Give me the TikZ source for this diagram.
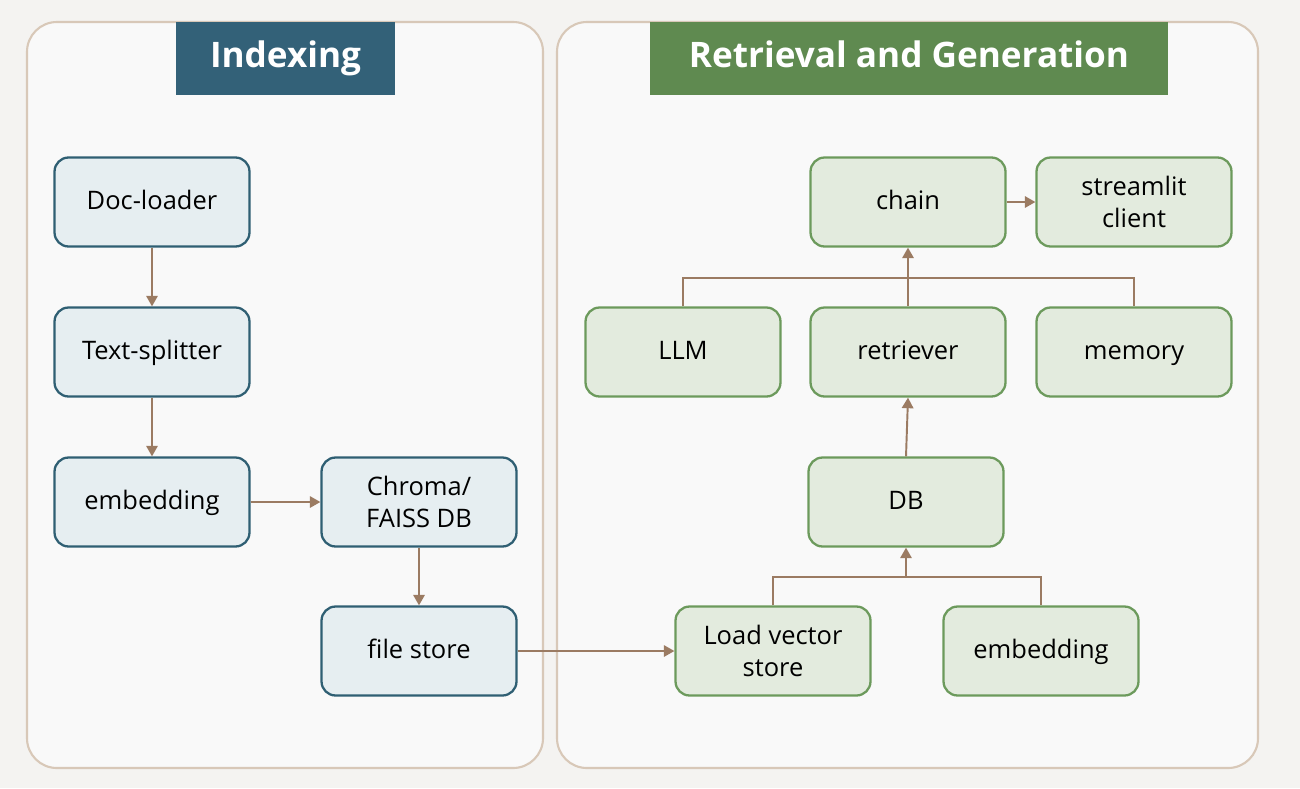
\documentclass[tikz,border=0pt]{standalone}
\usepackage{fontspec}
\setmainfont{Open Sans}
\usetikzlibrary{positioning}
\usetikzlibrary{arrows.meta}

\definecolor{pagebg}{HTML}{F4F3F1}
\definecolor{panelbg}{HTML}{F9F9F9}
\definecolor{panelline}{HTML}{D8C8B8}
\definecolor{idxhead}{HTML}{336178}
\definecolor{ragHead}{HTML}{5F8A50}
\definecolor{idxfill}{HTML}{E6EEF1}
\definecolor{idxline}{HTML}{2F5F73}
\definecolor{ragfill}{HTML}{E3EBDE}
\definecolor{ragline}{HTML}{6C9A5C}
\definecolor{flow}{HTML}{9B7B62}

\tikzset{
  panel/.style={draw=panelline, line width=1.2pt, fill=panelbg, rounded corners=17pt},
  head/.style={text=white, font=\fontsize{20}{24}\selectfont\bfseries,
    inner sep=0pt, anchor=north, minimum height=1.46cm,
    text height=1.0em, text depth=0em},
  box/.style={rounded corners=8pt, line width=1.3pt, minimum width=3.9cm,
    minimum height=1.78cm, align=center, font=\fontsize{14.5}{18}\selectfont},
  oneline/.style={text height=0.85em, text depth=0em},
  idxbox/.style={box, draw=idxline, fill=idxfill},
  ragbox/.style={box, draw=ragline, fill=ragfill},
  flowline/.style={draw=flow, line width=1.1pt},
  flowarrow/.style={flowline, -{Triangle[length=6pt,width=6.5pt]}}
}

\begin{document}
\begin{tikzpicture}[x=0.02cm, y=-0.02cm]
\fill[pagebg] (0,0) rectangle (1300,788);
\useasboundingbox (0,0) rectangle (1300,788);

% panels and headings
\draw[panel] (27,22) rectangle (543,768);
\draw[panel] (557,22) rectangle (1258,768);
\node[head, fill=idxhead, minimum width=4.38cm] (hidx) at (285.5,22) {Indexing};
\node[head, fill=ragHead, minimum width=10.36cm] (hrag) at (909,22) {Retrieval and Generation};

% indexing side
\node[idxbox, oneline] (loader) at (152,202) {Doc-loader};
\node[idxbox, oneline] (splitter) at (152,352) {Text-splitter};
\node[idxbox, oneline] (embed) at (152,502) {embedding};
\node[idxbox] (chroma) at (419,502) {Chroma/\\FAISS DB};
\node[idxbox, oneline] (filestore) at (419,651) {file store};

% retrieval side
\node[ragbox, oneline] (chain) at (908,202) {chain};
\node[ragbox] (client) at (1134,202) {streamlit\\client};
\node[ragbox, oneline] (llm) at (683,352) {LLM};
\node[ragbox, oneline] (retriever) at (908,352) {retriever};
\node[ragbox, oneline] (memory) at (1134,352) {memory};
\node[ragbox, oneline] (db) at (906,502) {DB};
\node[ragbox] (loadvs) at (773,651) {Load vector\\store};
\node[ragbox, oneline] (embed2) at (1041,651) {embedding};

\coordinate (topjoin) at (908,278);
\coordinate (lowjoin) at (906,577);

\draw[flowarrow] (loader) -- (splitter);
\draw[flowarrow] (splitter) -- (embed);
\draw[flowarrow] (embed) -- (chroma);
\draw[flowarrow] (chroma) -- (filestore);
\draw[flowarrow] (filestore) -- (loadvs);

\draw[flowarrow] (chain) -- (client);
\draw[flowline] (llm.north) |- (topjoin) -| (memory.north);
\draw[flowarrow] (retriever.north) -- (chain.south);
\draw[flowarrow] (db.north) -- (retriever.south);
\draw[flowline] (loadvs.north) |- (lowjoin) -| (embed2.north);
\draw[flowarrow] (lowjoin) -- (db.south);
\end{tikzpicture}
\end{document}
